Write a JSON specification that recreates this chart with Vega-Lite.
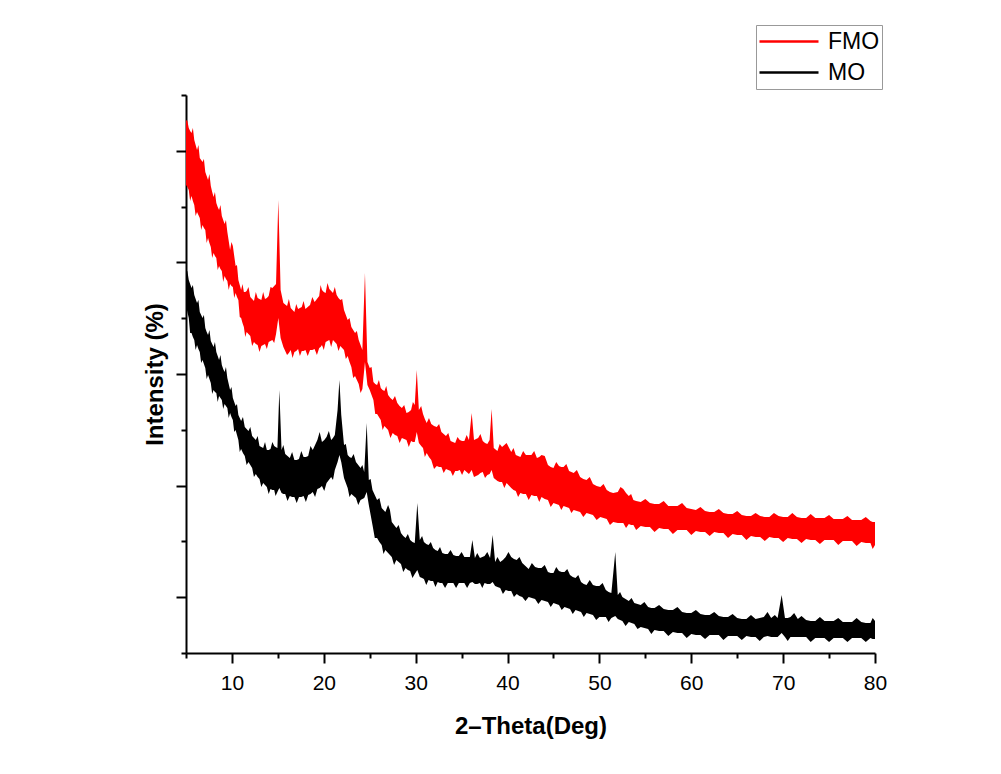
{
  "$schema": "https://vega.github.io/schema/vega-lite/v6.json",
  "width": 689,
  "height": 558,
  "autosize": {"type": "none"},
  "padding": {"left": 186, "top": 95, "right": 126, "bottom": 121},
  "background": "white",
  "config": {"view": {"stroke": null}, "font": "Liberation Sans"},
  "data": {"values": [
    {"s":"FMO","x":5.0,"hi":533,"lo":468},{"s":"FMO","x":5.3,"hi":525,"lo":463},{"s":"FMO","x":5.6,"hi":520,"lo":457},{"s":"FMO","x":5.9,"hi":513,"lo":448},{"s":"FMO","x":6.2,"hi":503,"lo":441},{"s":"FMO","x":6.5,"hi":495,"lo":435},{"s":"FMO","x":6.8,"hi":491,"lo":428},{"s":"FMO","x":7.1,"hi":481,"lo":423},{"s":"FMO","x":7.4,"hi":473,"lo":415},{"s":"FMO","x":7.7,"hi":467,"lo":406},{"s":"FMO","x":8.0,"hi":456,"lo":400},{"s":"FMO","x":8.3,"hi":450,"lo":395},{"s":"FMO","x":8.6,"hi":443,"lo":387},{"s":"FMO","x":8.9,"hi":437,"lo":382},{"s":"FMO","x":9.2,"hi":429,"lo":377},{"s":"FMO","x":9.5,"hi":421,"lo":372},{"s":"FMO","x":9.8,"hi":403,"lo":369},{"s":"FMO","x":10.1,"hi":407,"lo":366},{"s":"FMO","x":10.4,"hi":387,"lo":360},{"s":"FMO","x":10.7,"hi":373,"lo":353},{"s":"FMO","x":11.0,"hi":363,"lo":335},{"s":"FMO","x":11.3,"hi":361,"lo":326},{"s":"FMO","x":11.6,"hi":362,"lo":321},{"s":"FMO","x":12.0,"hi":356,"lo":317},{"s":"FMO","x":12.4,"hi":352,"lo":311},{"s":"FMO","x":12.8,"hi":355,"lo":308},{"s":"FMO","x":13.2,"hi":353,"lo":307},{"s":"FMO","x":13.6,"hi":354,"lo":309},{"s":"FMO","x":14.0,"hi":357,"lo":311},{"s":"FMO","x":14.4,"hi":365,"lo":313},{"s":"FMO","x":14.8,"hi":369,"lo":319},{"s":"FMO","x":15.05,"hi":453,"lo":335},{"s":"FMO","x":15.3,"hi":363,"lo":315},{"s":"FMO","x":15.6,"hi":350,"lo":306},{"s":"FMO","x":16.0,"hi":347,"lo":298},{"s":"FMO","x":16.4,"hi":345,"lo":303},{"s":"FMO","x":16.8,"hi":341,"lo":301},{"s":"FMO","x":17.2,"hi":344,"lo":304},{"s":"FMO","x":17.6,"hi":346,"lo":302},{"s":"FMO","x":18.0,"hi":344,"lo":303},{"s":"FMO","x":18.5,"hi":348,"lo":303},{"s":"FMO","x":19.0,"hi":351,"lo":304},{"s":"FMO","x":19.5,"hi":357,"lo":305},{"s":"FMO","x":19.8,"hi":363,"lo":308},{"s":"FMO","x":20.2,"hi":360,"lo":311},{"s":"FMO","x":20.6,"hi":364,"lo":313},{"s":"FMO","x":21.0,"hi":360,"lo":313},{"s":"FMO","x":21.4,"hi":358,"lo":309},{"s":"FMO","x":21.8,"hi":353,"lo":307},{"s":"FMO","x":22.2,"hi":343,"lo":303},{"s":"FMO","x":22.6,"hi":333,"lo":297},{"s":"FMO","x":23.0,"hi":326,"lo":286},{"s":"FMO","x":23.4,"hi":320,"lo":277},{"s":"FMO","x":23.8,"hi":313,"lo":269},{"s":"FMO","x":24.2,"hi":303,"lo":264},{"s":"FMO","x":24.48,"hi":380,"lo":291},{"s":"FMO","x":24.75,"hi":291,"lo":268},{"s":"FMO","x":25.0,"hi":285,"lo":263},{"s":"FMO","x":25.4,"hi":271,"lo":253},{"s":"FMO","x":25.8,"hi":268,"lo":239},{"s":"FMO","x":26.2,"hi":265,"lo":233},{"s":"FMO","x":26.6,"hi":262,"lo":227},{"s":"FMO","x":27.0,"hi":258,"lo":223},{"s":"FMO","x":27.5,"hi":253,"lo":220},{"s":"FMO","x":28.0,"hi":250,"lo":217},{"s":"FMO","x":28.5,"hi":245,"lo":215},{"s":"FMO","x":29.0,"hi":240,"lo":213},{"s":"FMO","x":29.5,"hi":243,"lo":212},{"s":"FMO","x":29.9,"hi":248,"lo":211},{"s":"FMO","x":30.12,"hi":283,"lo":221},{"s":"FMO","x":30.35,"hi":243,"lo":210},{"s":"FMO","x":30.8,"hi":239,"lo":205},{"s":"FMO","x":31.2,"hi":230,"lo":200},{"s":"FMO","x":31.7,"hi":229,"lo":193},{"s":"FMO","x":32.3,"hi":226,"lo":187},{"s":"FMO","x":32.8,"hi":221,"lo":186},{"s":"FMO","x":33.3,"hi":217,"lo":184},{"s":"FMO","x":33.8,"hi":212,"lo":182},{"s":"FMO","x":34.3,"hi":210,"lo":182},{"s":"FMO","x":34.8,"hi":213,"lo":183},{"s":"FMO","x":35.3,"hi":212,"lo":183},{"s":"FMO","x":35.8,"hi":213,"lo":179},{"s":"FMO","x":36.1,"hi":240,"lo":183},{"s":"FMO","x":36.35,"hi":213,"lo":176},{"s":"FMO","x":36.8,"hi":215,"lo":178},{"s":"FMO","x":37.3,"hi":212,"lo":181},{"s":"FMO","x":37.8,"hi":209,"lo":178},{"s":"FMO","x":38.05,"hi":213,"lo":179},{"s":"FMO","x":38.27,"hi":244,"lo":183},{"s":"FMO","x":38.5,"hi":205,"lo":175},{"s":"FMO","x":38.9,"hi":202,"lo":172},{"s":"FMO","x":39.4,"hi":206,"lo":171},{"s":"FMO","x":39.9,"hi":210,"lo":170},{"s":"FMO","x":40.4,"hi":201,"lo":165},{"s":"FMO","x":40.9,"hi":198,"lo":162},{"s":"FMO","x":41.4,"hi":196,"lo":160},{"s":"FMO","x":42.0,"hi":198,"lo":159},{"s":"FMO","x":42.6,"hi":198,"lo":158},{"s":"FMO","x":43.2,"hi":195,"lo":157},{"s":"FMO","x":43.7,"hi":198,"lo":156},{"s":"FMO","x":44.4,"hi":188,"lo":153},{"s":"FMO","x":45.0,"hi":185,"lo":150},{"s":"FMO","x":45.6,"hi":187,"lo":148},{"s":"FMO","x":46.1,"hi":186,"lo":147},{"s":"FMO","x":46.7,"hi":182,"lo":145},{"s":"FMO","x":47.2,"hi":180,"lo":143},{"s":"FMO","x":47.9,"hi":176,"lo":141},{"s":"FMO","x":48.6,"hi":173,"lo":140},{"s":"FMO","x":49.3,"hi":169,"lo":138},{"s":"FMO","x":50.1,"hi":166,"lo":136},{"s":"FMO","x":50.8,"hi":163,"lo":134},{"s":"FMO","x":51.5,"hi":160,"lo":131},{"s":"FMO","x":52.0,"hi":161,"lo":130},{"s":"FMO","x":52.6,"hi":164,"lo":130},{"s":"FMO","x":53.2,"hi":157,"lo":129},{"s":"FMO","x":53.7,"hi":153,"lo":128},{"s":"FMO","x":54.5,"hi":151,"lo":127},{"s":"FMO","x":55.5,"hi":150,"lo":126},{"s":"FMO","x":56.5,"hi":149,"lo":125},{"s":"FMO","x":57.5,"hi":147,"lo":124},{"s":"FMO","x":58.5,"hi":147,"lo":123},{"s":"FMO","x":59.5,"hi":145,"lo":123},{"s":"FMO","x":60.5,"hi":143,"lo":122},{"s":"FMO","x":61.5,"hi":142,"lo":121},{"s":"FMO","x":62.5,"hi":141,"lo":121},{"s":"FMO","x":63.5,"hi":140,"lo":120},{"s":"FMO","x":64.5,"hi":139,"lo":119},{"s":"FMO","x":65.5,"hi":138,"lo":118},{"s":"FMO","x":66.5,"hi":137,"lo":117},{"s":"FMO","x":67.5,"hi":137,"lo":116},{"s":"FMO","x":68.5,"hi":136,"lo":116},{"s":"FMO","x":69.5,"hi":137,"lo":115},{"s":"FMO","x":70.5,"hi":136,"lo":115},{"s":"FMO","x":71.5,"hi":136,"lo":114},{"s":"FMO","x":72.5,"hi":135,"lo":114},{"s":"FMO","x":73.5,"hi":135,"lo":113},{"s":"FMO","x":74.5,"hi":135,"lo":113},{"s":"FMO","x":75.5,"hi":134,"lo":113},{"s":"FMO","x":76.5,"hi":134,"lo":112},{"s":"FMO","x":77.5,"hi":133,"lo":112},{"s":"FMO","x":78.5,"hi":133,"lo":111},{"s":"FMO","x":79.5,"hi":132,"lo":110},{"s":"FMO","x":80.0,"hi":131,"lo":108},
    {"s":"FMO","x":5.15,"hi":532,"lo":466},{"s":"FMO","x":5.45,"hi":522,"lo":452},{"s":"FMO","x":5.75,"hi":525,"lo":452},{"s":"FMO","x":6.05,"hi":508,"lo":437},{"s":"FMO","x":6.35,"hi":508,"lo":438},{"s":"FMO","x":6.65,"hi":493,"lo":423},{"s":"FMO","x":6.95,"hi":494,"lo":425},{"s":"FMO","x":7.25,"hi":477,"lo":410},{"s":"FMO","x":7.55,"hi":479,"lo":410},{"s":"FMO","x":7.85,"hi":461,"lo":395},{"s":"FMO","x":8.15,"hi":461,"lo":397},{"s":"FMO","x":8.45,"hi":446,"lo":383},{"s":"FMO","x":8.75,"hi":448,"lo":384},{"s":"FMO","x":9.05,"hi":433,"lo":371},{"s":"FMO","x":9.35,"hi":433,"lo":374},{"s":"FMO","x":9.65,"hi":412,"lo":363},{"s":"FMO","x":9.95,"hi":411,"lo":367},{"s":"FMO","x":10.25,"hi":397,"lo":355},{"s":"FMO","x":10.55,"hi":388,"lo":356},{"s":"FMO","x":10.85,"hi":368,"lo":336},{"s":"FMO","x":11.15,"hi":369,"lo":330},{"s":"FMO","x":11.45,"hi":361,"lo":316},{"s":"FMO","x":11.8,"hi":366,"lo":319},{"s":"FMO","x":12.2,"hi":354,"lo":307},{"s":"FMO","x":12.6,"hi":361,"lo":309},{"s":"FMO","x":13.0,"hi":354,"lo":301},{"s":"FMO","x":13.4,"hi":361,"lo":308},{"s":"FMO","x":13.8,"hi":355,"lo":304},{"s":"FMO","x":14.2,"hi":366,"lo":312},{"s":"FMO","x":14.6,"hi":367,"lo":310},
    {"s":"FMO","x":16.2,"hi":354,"lo":300},{"s":"FMO","x":16.6,"hi":343,"lo":295},{"s":"FMO","x":17.0,"hi":349,"lo":302},{"s":"FMO","x":17.4,"hi":345,"lo":297},{"s":"FMO","x":17.8,"hi":352,"lo":302},{"s":"FMO","x":18.25,"hi":346,"lo":297},{"s":"FMO","x":18.75,"hi":356,"lo":303},{"s":"FMO","x":19.25,"hi":354,"lo":298},{"s":"FMO","x":19.65,"hi":368,"lo":306},{"s":"FMO","x":20.0,"hi":361,"lo":303},{"s":"FMO","x":20.4,"hi":370,"lo":312},{"s":"FMO","x":20.8,"hi":362,"lo":306},{"s":"FMO","x":21.2,"hi":366,"lo":311},{"s":"FMO","x":21.6,"hi":355,"lo":302},{"s":"FMO","x":22.0,"hi":354,"lo":305},{"s":"FMO","x":22.4,"hi":338,"lo":294},{"s":"FMO","x":22.8,"hi":335,"lo":291},{"s":"FMO","x":23.2,"hi":323,"lo":275},{"s":"FMO","x":23.6,"hi":322,"lo":273},{"s":"FMO","x":24.0,"hi":308,"lo":260},
    {"s":"FMO","x":25.2,"hi":286,"lo":258},{"s":"FMO","x":25.6,"hi":269,"lo":239},{"s":"FMO","x":26.0,"hi":273,"lo":236},{"s":"FMO","x":26.4,"hi":263,"lo":223},{"s":"FMO","x":26.8,"hi":267,"lo":225},{"s":"FMO","x":27.25,"hi":255,"lo":215},{"s":"FMO","x":27.75,"hi":257,"lo":218},{"s":"FMO","x":28.25,"hi":247,"lo":210},{"s":"FMO","x":28.75,"hi":248,"lo":214},{"s":"FMO","x":29.25,"hi":241,"lo":206},{"s":"FMO","x":29.7,"hi":251,"lo":211},
    {"s":"FMO","x":30.6,"hi":247,"lo":207},{"s":"FMO","x":31.0,"hi":234,"lo":196},{"s":"FMO","x":31.45,"hi":235,"lo":196},{"s":"FMO","x":32.0,"hi":227,"lo":184},{"s":"FMO","x":32.55,"hi":229,"lo":186},{"s":"FMO","x":33.05,"hi":219,"lo":180},{"s":"FMO","x":33.55,"hi":220,"lo":183},{"s":"FMO","x":34.05,"hi":211,"lo":177},{"s":"FMO","x":34.55,"hi":216,"lo":182},{"s":"FMO","x":35.05,"hi":212,"lo":178},{"s":"FMO","x":35.55,"hi":218,"lo":181},
    {"s":"FMO","x":37.05,"hi":219,"lo":180},{"s":"FMO","x":37.55,"hi":210,"lo":175},{"s":"FMO","x":39.15,"hi":209,"lo":171},{"s":"FMO","x":39.65,"hi":208,"lo":165},{"s":"FMO","x":40.65,"hi":205,"lo":163},{"s":"FMO","x":41.15,"hi":197,"lo":156},{"s":"FMO","x":41.7,"hi":202,"lo":159},{"s":"FMO","x":42.3,"hi":198,"lo":153},{"s":"FMO","x":42.9,"hi":202,"lo":157},{"s":"FMO","x":43.45,"hi":196,"lo":151},{"s":"FMO","x":44.05,"hi":197,"lo":154},{"s":"FMO","x":44.7,"hi":186,"lo":146},{"s":"FMO","x":45.3,"hi":191,"lo":149},{"s":"FMO","x":45.85,"hi":186,"lo":143},{"s":"FMO","x":46.4,"hi":189,"lo":146},{"s":"FMO","x":46.95,"hi":181,"lo":140},{"s":"FMO","x":47.55,"hi":183,"lo":142},{"s":"FMO","x":48.25,"hi":174,"lo":136},{"s":"FMO","x":48.95,"hi":176,"lo":139},{"s":"FMO","x":49.7,"hi":167,"lo":133},{"s":"FMO","x":50.45,"hi":169,"lo":135},{"s":"FMO","x":51.15,"hi":161,"lo":128},{"s":"FMO","x":52.3,"hi":166,"lo":130},{"s":"FMO","x":52.9,"hi":160,"lo":125},{"s":"FMO","x":53.45,"hi":159,"lo":128},{"s":"FMO","x":54.0,"hi":152,"lo":123},
    {"s":"FMO","x":55.0,"hi":154,"lo":126},{"s":"FMO","x":56.0,"hi":149,"lo":121},{"s":"FMO","x":57.0,"hi":152,"lo":124},{"s":"FMO","x":58.0,"hi":147,"lo":119},{"s":"FMO","x":59.0,"hi":150,"lo":123},{"s":"FMO","x":60.0,"hi":144,"lo":118},{"s":"FMO","x":61.0,"hi":146,"lo":121},{"s":"FMO","x":62.0,"hi":141,"lo":117},{"s":"FMO","x":63.0,"hi":144,"lo":120},{"s":"FMO","x":64.0,"hi":139,"lo":115},{"s":"FMO","x":65.0,"hi":142,"lo":118},{"s":"FMO","x":66.0,"hi":137,"lo":113},{"s":"FMO","x":67.0,"hi":140,"lo":116},{"s":"FMO","x":68.0,"hi":136,"lo":112},{"s":"FMO","x":69.0,"hi":140,"lo":115},{"s":"FMO","x":70.0,"hi":136,"lo":111},{"s":"FMO","x":71.0,"hi":140,"lo":114},{"s":"FMO","x":72.0,"hi":135,"lo":110},{"s":"FMO","x":73.0,"hi":139,"lo":113},{"s":"FMO","x":74.0,"hi":135,"lo":109},{"s":"FMO","x":75.0,"hi":138,"lo":113},{"s":"FMO","x":76.0,"hi":134,"lo":108},{"s":"FMO","x":77.0,"hi":137,"lo":112},{"s":"FMO","x":78.0,"hi":133,"lo":107},{"s":"FMO","x":79.0,"hi":136,"lo":110},{"s":"FMO","x":79.75,"hi":131,"lo":104},
    {"s":"MO","x":5.0,"hi":381,"lo":348},{"s":"MO","x":5.3,"hi":373,"lo":335},{"s":"MO","x":5.6,"hi":365,"lo":320},{"s":"MO","x":5.9,"hi":358,"lo":313},{"s":"MO","x":6.2,"hi":350,"lo":308},{"s":"MO","x":6.5,"hi":341,"lo":301},{"s":"MO","x":6.8,"hi":335,"lo":293},{"s":"MO","x":7.1,"hi":325,"lo":285},{"s":"MO","x":7.4,"hi":318,"lo":278},{"s":"MO","x":7.7,"hi":312,"lo":270},{"s":"MO","x":8.0,"hi":306,"lo":263},{"s":"MO","x":8.3,"hi":301,"lo":260},{"s":"MO","x":8.6,"hi":293,"lo":257},{"s":"MO","x":8.9,"hi":288,"lo":253},{"s":"MO","x":9.2,"hi":281,"lo":249},{"s":"MO","x":9.5,"hi":275,"lo":245},{"s":"MO","x":9.8,"hi":263,"lo":240},{"s":"MO","x":10.1,"hi":255,"lo":233},{"s":"MO","x":10.4,"hi":247,"lo":223},{"s":"MO","x":10.7,"hi":238,"lo":213},{"s":"MO","x":11.0,"hi":232,"lo":204},{"s":"MO","x":11.4,"hi":226,"lo":197},{"s":"MO","x":11.8,"hi":222,"lo":191},{"s":"MO","x":12.2,"hi":217,"lo":185},{"s":"MO","x":12.6,"hi":213,"lo":179},{"s":"MO","x":13.0,"hi":207,"lo":174},{"s":"MO","x":13.4,"hi":205,"lo":170},{"s":"MO","x":13.8,"hi":203,"lo":166},{"s":"MO","x":14.2,"hi":204,"lo":164},{"s":"MO","x":14.6,"hi":207,"lo":163},{"s":"MO","x":14.95,"hi":205,"lo":161},{"s":"MO","x":15.16,"hi":263,"lo":165},{"s":"MO","x":15.4,"hi":203,"lo":160},{"s":"MO","x":15.8,"hi":199,"lo":159},{"s":"MO","x":16.3,"hi":195,"lo":157},{"s":"MO","x":16.8,"hi":193,"lo":156},{"s":"MO","x":17.3,"hi":194,"lo":156},{"s":"MO","x":17.8,"hi":196,"lo":157},{"s":"MO","x":18.3,"hi":197,"lo":158},{"s":"MO","x":18.8,"hi":203,"lo":161},{"s":"MO","x":19.3,"hi":213,"lo":164},{"s":"MO","x":19.8,"hi":211,"lo":167},{"s":"MO","x":20.3,"hi":216,"lo":170},{"s":"MO","x":20.8,"hi":213,"lo":176},{"s":"MO","x":21.2,"hi":218,"lo":183},{"s":"MO","x":21.5,"hi":243,"lo":191},{"s":"MO","x":21.7,"hi":273,"lo":198},{"s":"MO","x":21.9,"hi":238,"lo":191},{"s":"MO","x":22.2,"hi":208,"lo":175},{"s":"MO","x":22.6,"hi":198,"lo":165},{"s":"MO","x":23.0,"hi":195,"lo":159},{"s":"MO","x":23.5,"hi":191,"lo":155},{"s":"MO","x":24.0,"hi":185,"lo":153},{"s":"MO","x":24.4,"hi":181,"lo":155},{"s":"MO","x":24.67,"hi":230,"lo":161},{"s":"MO","x":24.9,"hi":173,"lo":148},{"s":"MO","x":25.3,"hi":163,"lo":128},{"s":"MO","x":25.8,"hi":153,"lo":115},{"s":"MO","x":26.3,"hi":145,"lo":108},{"s":"MO","x":26.7,"hi":141,"lo":103},{"s":"MO","x":27.0,"hi":148,"lo":100},{"s":"MO","x":27.4,"hi":131,"lo":96},{"s":"MO","x":27.9,"hi":125,"lo":93},{"s":"MO","x":28.4,"hi":120,"lo":89},{"s":"MO","x":28.9,"hi":115,"lo":85},{"s":"MO","x":29.4,"hi":113,"lo":82},{"s":"MO","x":29.9,"hi":110,"lo":79},{"s":"MO","x":30.18,"hi":150,"lo":83},{"s":"MO","x":30.45,"hi":113,"lo":76},{"s":"MO","x":30.9,"hi":111,"lo":74},{"s":"MO","x":31.4,"hi":108,"lo":73},{"s":"MO","x":31.9,"hi":105,"lo":72},{"s":"MO","x":32.4,"hi":102,"lo":71},{"s":"MO","x":32.9,"hi":100,"lo":70},{"s":"MO","x":33.5,"hi":99,"lo":70},{"s":"MO","x":34.1,"hi":98,"lo":70},{"s":"MO","x":34.7,"hi":97,"lo":70},{"s":"MO","x":35.3,"hi":96,"lo":70},{"s":"MO","x":35.9,"hi":96,"lo":70},{"s":"MO","x":36.17,"hi":113,"lo":71},{"s":"MO","x":36.45,"hi":95,"lo":69},{"s":"MO","x":37.0,"hi":95,"lo":70},{"s":"MO","x":37.5,"hi":97,"lo":70},{"s":"MO","x":38.1,"hi":95,"lo":69},{"s":"MO","x":38.38,"hi":118,"lo":71},{"s":"MO","x":38.65,"hi":91,"lo":67},{"s":"MO","x":39.2,"hi":91,"lo":65},{"s":"MO","x":39.8,"hi":96,"lo":63},{"s":"MO","x":40.4,"hi":96,"lo":62},{"s":"MO","x":41.0,"hi":93,"lo":59},{"s":"MO","x":41.6,"hi":90,"lo":56},{"s":"MO","x":42.3,"hi":84,"lo":56},{"s":"MO","x":43.0,"hi":86,"lo":54},{"s":"MO","x":43.7,"hi":85,"lo":53},{"s":"MO","x":44.4,"hi":81,"lo":51},{"s":"MO","x":45.0,"hi":80,"lo":50},{"s":"MO","x":45.6,"hi":82,"lo":48},{"s":"MO","x":46.2,"hi":81,"lo":46},{"s":"MO","x":46.8,"hi":78,"lo":44},{"s":"MO","x":47.4,"hi":75,"lo":43},{"s":"MO","x":48.0,"hi":71,"lo":41},{"s":"MO","x":48.6,"hi":68,"lo":40},{"s":"MO","x":49.3,"hi":68,"lo":38},{"s":"MO","x":50.0,"hi":67,"lo":36},{"s":"MO","x":50.7,"hi":63,"lo":36},{"s":"MO","x":51.3,"hi":60,"lo":35},{"s":"MO","x":51.73,"hi":101,"lo":37},{"s":"MO","x":52.0,"hi":58,"lo":34},{"s":"MO","x":52.5,"hi":56,"lo":32},{"s":"MO","x":53.2,"hi":52,"lo":31},{"s":"MO","x":53.8,"hi":50,"lo":29},{"s":"MO","x":54.5,"hi":48,"lo":26},{"s":"MO","x":55.3,"hi":46,"lo":24},{"s":"MO","x":56.0,"hi":45,"lo":23},{"s":"MO","x":57.0,"hi":44,"lo":22},{"s":"MO","x":58.0,"hi":43,"lo":21},{"s":"MO","x":59.0,"hi":41,"lo":20},{"s":"MO","x":60.0,"hi":40,"lo":19},{"s":"MO","x":61.0,"hi":39,"lo":18},{"s":"MO","x":62.0,"hi":38,"lo":18},{"s":"MO","x":63.0,"hi":37,"lo":18},{"s":"MO","x":64.0,"hi":36,"lo":17},{"s":"MO","x":65.0,"hi":35,"lo":17},{"s":"MO","x":66.0,"hi":34,"lo":17},{"s":"MO","x":67.0,"hi":34,"lo":16},{"s":"MO","x":67.9,"hi":36,"lo":16},{"s":"MO","x":68.3,"hi":41,"lo":17},{"s":"MO","x":68.7,"hi":35,"lo":16},{"s":"MO","x":69.4,"hi":35,"lo":16},{"s":"MO","x":69.84,"hi":58,"lo":20},{"s":"MO","x":70.2,"hi":35,"lo":16},{"s":"MO","x":70.8,"hi":36,"lo":16},{"s":"MO","x":71.2,"hi":40,"lo":16},{"s":"MO","x":71.6,"hi":34,"lo":16},{"s":"MO","x":72.5,"hi":33,"lo":16},{"s":"MO","x":73.5,"hi":32,"lo":15},{"s":"MO","x":74.5,"hi":32,"lo":15},{"s":"MO","x":75.5,"hi":32,"lo":15},{"s":"MO","x":76.5,"hi":31,"lo":15},{"s":"MO","x":77.5,"hi":31,"lo":15},{"s":"MO","x":78.5,"hi":31,"lo":15},{"s":"MO","x":79.5,"hi":30,"lo":15},{"s":"MO","x":80.0,"hi":32,"lo":14},
    {"s":"MO","x":5.15,"hi":382,"lo":341},{"s":"MO","x":5.45,"hi":369,"lo":320},{"s":"MO","x":5.75,"hi":368,"lo":316},{"s":"MO","x":6.05,"hi":354,"lo":303},{"s":"MO","x":6.35,"hi":353,"lo":304},{"s":"MO","x":6.65,"hi":338,"lo":290},{"s":"MO","x":6.95,"hi":338,"lo":289},{"s":"MO","x":7.25,"hi":321,"lo":274},{"s":"MO","x":7.55,"hi":323,"lo":274},{"s":"MO","x":7.85,"hi":309,"lo":259},{"s":"MO","x":8.15,"hi":311,"lo":261},{"s":"MO","x":8.45,"hi":297,"lo":251},{"s":"MO","x":8.75,"hi":298,"lo":255},{"s":"MO","x":9.05,"hi":284,"lo":244},{"s":"MO","x":9.35,"hi":286,"lo":247},{"s":"MO","x":9.65,"hi":269,"lo":235},{"s":"MO","x":9.95,"hi":266,"lo":236},{"s":"MO","x":10.25,"hi":251,"lo":221},{"s":"MO","x":10.55,"hi":249,"lo":218},{"s":"MO","x":10.85,"hi":235,"lo":201},{"s":"MO","x":11.2,"hi":236,"lo":200},{"s":"MO","x":11.6,"hi":224,"lo":188},{"s":"MO","x":12.0,"hi":226,"lo":188},{"s":"MO","x":12.4,"hi":215,"lo":176},{"s":"MO","x":12.8,"hi":217,"lo":176},{"s":"MO","x":13.2,"hi":206,"lo":166},{"s":"MO","x":13.6,"hi":211,"lo":168},{"s":"MO","x":14.0,"hi":203,"lo":159},{"s":"MO","x":14.4,"hi":211,"lo":163},{"s":"MO","x":14.75,"hi":206,"lo":157},
    {"s":"MO","x":15.6,"hi":208,"lo":159},{"s":"MO","x":16.05,"hi":197,"lo":152},{"s":"MO","x":16.55,"hi":201,"lo":156},{"s":"MO","x":17.05,"hi":193,"lo":150},{"s":"MO","x":17.55,"hi":202,"lo":156},{"s":"MO","x":18.05,"hi":196,"lo":151},{"s":"MO","x":18.55,"hi":207,"lo":159},{"s":"MO","x":19.05,"hi":208,"lo":156},{"s":"MO","x":19.55,"hi":221,"lo":165},{"s":"MO","x":20.05,"hi":213,"lo":162},{"s":"MO","x":20.55,"hi":222,"lo":173},{"s":"MO","x":21.0,"hi":215,"lo":173},{"s":"MO","x":22.4,"hi":209,"lo":170},{"s":"MO","x":22.8,"hi":196,"lo":156},{"s":"MO","x":23.25,"hi":199,"lo":157},{"s":"MO","x":23.75,"hi":188,"lo":148},{"s":"MO","x":24.2,"hi":188,"lo":154},
    {"s":"MO","x":25.1,"hi":174,"lo":138},{"s":"MO","x":25.55,"hi":158,"lo":115},{"s":"MO","x":26.05,"hi":155,"lo":111},{"s":"MO","x":26.5,"hi":143,"lo":99},{"s":"MO","x":27.2,"hi":143,"lo":98},{"s":"MO","x":27.65,"hi":128,"lo":88},{"s":"MO","x":28.15,"hi":128,"lo":91},{"s":"MO","x":28.65,"hi":117,"lo":81},{"s":"MO","x":29.15,"hi":119,"lo":83},{"s":"MO","x":29.65,"hi":111,"lo":75},
    {"s":"MO","x":30.7,"hi":117,"lo":75},{"s":"MO","x":31.15,"hi":109,"lo":68},{"s":"MO","x":31.65,"hi":111,"lo":72},{"s":"MO","x":32.15,"hi":103,"lo":66},{"s":"MO","x":32.65,"hi":106,"lo":70},{"s":"MO","x":33.2,"hi":99,"lo":65},{"s":"MO","x":33.8,"hi":103,"lo":70},{"s":"MO","x":34.4,"hi":97,"lo":65},{"s":"MO","x":35.0,"hi":101,"lo":70},{"s":"MO","x":35.6,"hi":96,"lo":65},{"s":"MO","x":36.7,"hi":100,"lo":69},{"s":"MO","x":37.25,"hi":96,"lo":65},{"s":"MO","x":37.8,"hi":101,"lo":69},
    {"s":"MO","x":38.9,"hi":96,"lo":66},{"s":"MO","x":39.5,"hi":93,"lo":59},{"s":"MO","x":40.1,"hi":101,"lo":62},{"s":"MO","x":40.7,"hi":94,"lo":56},{"s":"MO","x":41.3,"hi":96,"lo":57},{"s":"MO","x":41.95,"hi":87,"lo":52},{"s":"MO","x":42.65,"hi":90,"lo":55},{"s":"MO","x":43.35,"hi":85,"lo":49},{"s":"MO","x":44.05,"hi":88,"lo":52},{"s":"MO","x":44.7,"hi":80,"lo":46},{"s":"MO","x":45.3,"hi":86,"lo":49},{"s":"MO","x":45.9,"hi":81,"lo":43},{"s":"MO","x":46.5,"hi":84,"lo":45},{"s":"MO","x":47.1,"hi":76,"lo":39},{"s":"MO","x":47.7,"hi":78,"lo":42},{"s":"MO","x":48.3,"hi":69,"lo":36},{"s":"MO","x":48.95,"hi":73,"lo":39},{"s":"MO","x":49.65,"hi":67,"lo":33},{"s":"MO","x":50.35,"hi":70,"lo":36},{"s":"MO","x":51.0,"hi":61,"lo":31},{"s":"MO","x":52.25,"hi":61,"lo":33},{"s":"MO","x":52.85,"hi":54,"lo":27},{"s":"MO","x":53.5,"hi":55,"lo":30},
    {"s":"MO","x":54.15,"hi":49,"lo":24},{"s":"MO","x":54.9,"hi":51,"lo":25},{"s":"MO","x":55.65,"hi":45,"lo":19},{"s":"MO","x":56.5,"hi":48,"lo":22},{"s":"MO","x":57.5,"hi":43,"lo":17},{"s":"MO","x":58.5,"hi":46,"lo":20},{"s":"MO","x":59.5,"hi":40,"lo":15},{"s":"MO","x":60.5,"hi":43,"lo":18},{"s":"MO","x":61.5,"hi":38,"lo":14},{"s":"MO","x":62.5,"hi":41,"lo":18},{"s":"MO","x":63.5,"hi":36,"lo":13},{"s":"MO","x":64.5,"hi":39,"lo":17},{"s":"MO","x":65.5,"hi":34,"lo":13},{"s":"MO","x":66.5,"hi":38,"lo":16},{"s":"MO","x":67.45,"hi":35,"lo":12},{"s":"MO","x":69.1,"hi":38,"lo":16},{"s":"MO","x":70.5,"hi":35,"lo":12},{"s":"MO","x":72.0,"hi":37,"lo":16},{"s":"MO","x":73.0,"hi":32,"lo":11},{"s":"MO","x":74.0,"hi":36,"lo":15},{"s":"MO","x":75.0,"hi":32,"lo":11},{"s":"MO","x":76.0,"hi":35,"lo":15},{"s":"MO","x":77.0,"hi":31,"lo":11},{"s":"MO","x":78.0,"hi":35,"lo":15},{"s":"MO","x":79.0,"hi":30,"lo":11},{"s":"MO","x":79.75,"hi":35,"lo":14}
  ]},
  "mark": {"type": "area", "interpolate": "linear"},
  "encoding": {
    "x": {
      "field": "x", "type": "quantitative",
      "scale": {"domain": [5, 80], "nice": false, "zero": false},
      "axis": {
        "title": "2–Theta(Deg)",
        "values": [5,10,15,20,25,30,35,40,45,50,55,60,65,70,75,80],
        "labelExpr": "datum.value % 10 === 0 ? datum.label : ''",
        "grid": false,
        "domainColor": "#000", "domainWidth": 2,
        "tickColor": "#000", "tickWidth": 2,
        "tickSize": {"condition": {"test": "datum.value % 10 === 0", "value": 10}, "value": 5},
        "labelFont": "Liberation Sans", "labelFontSize": 21, "labelColor": "#000", "labelPadding": 9,
        "labelFlush": false, "labelOverlap": false,
        "titleFont": "Liberation Sans", "titleFontSize": 24, "titleFontWeight": "bold", "titleColor": "#000",
        "titleBaseline": "alphabetic", "titleY": 80
      }
    },
    "y": {
      "field": "hi", "type": "quantitative",
      "scale": {"domain": [0, 558], "nice": false, "zero": false},
      "axis": {
        "title": "Intensity (%)",
        "values": [0,55.8,111.6,167.4,223.2,279,334.8,390.6,446.4,502.2,558],
        "labels": false,
        "grid": false,
        "domainColor": "#000", "domainWidth": 2,
        "tickColor": "#000", "tickWidth": 2,
        "tickSize": {"condition": {"test": "round(datum.value / 55.8) % 2 === 1", "value": 10}, "value": 5},
        "titleFont": "Liberation Sans", "titleFontSize": 24, "titleFontWeight": "bold", "titleColor": "#000",
        "titleBaseline": "alphabetic", "titleX": -24
      }
    },
    "y2": {"field": "lo"},
    "color": {
      "field": "s", "type": "nominal",
      "scale": {"domain": ["FMO", "MO"], "range": ["#ff0000", "#000000"]},
      "legend": {
        "title": null,
        "orient": "none", "legendX": 570, "legendY": -70,
        "symbolType": "stroke", "symbolSize": 3481, "symbolStrokeWidth": 2.5,
        "labelFont": "Liberation Sans", "labelFontSize": 23, "labelColor": "#000", "labelOffset": 8,
        "clipHeight": 29, "rowPadding": 2,
        "strokeColor": "#999", "fillColor": "white", "padding": 2,
        "encode": {"symbols": {"update": {"stroke": {"scale": "color", "field": "value"}, "strokeWidth": {"value": 2.5}}}}
      }
    }
  }
}
